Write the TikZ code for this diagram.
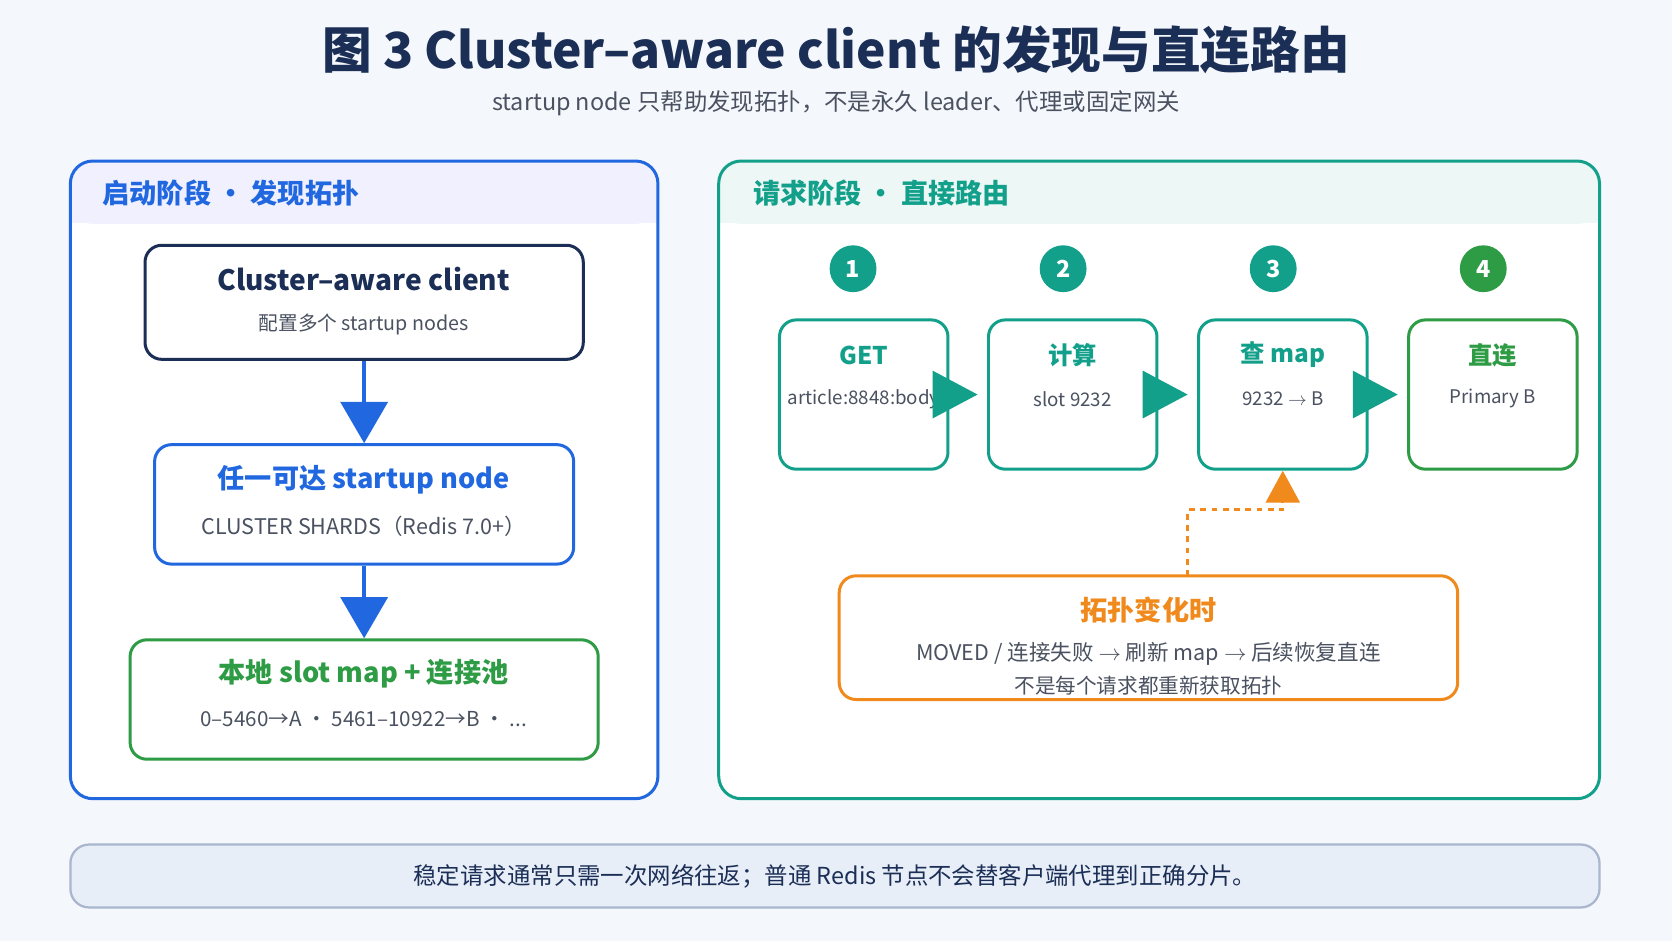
\documentclass[tikz,border=0pt]{standalone}
\usepackage{fontspec}
\setmainfont{Noto Sans CJK SC}
\usetikzlibrary{arrows.meta,positioning}
\definecolor{navy}{HTML}{1B2E55}
\definecolor{bluec}{HTML}{2168E0}
\definecolor{tealc}{HTML}{13A08A}
\definecolor{greenc}{HTML}{2E9B45}
\definecolor{orangec}{HTML}{F08A1C}
\definecolor{grayt}{HTML}{4A5160}
\definecolor{bgc}{HTML}{F4F7FB}
\definecolor{footfill}{HTML}{E8EEF8}
\definecolor{footline}{HTML}{AAB6CD}
\newcommand{\fs}[1]{\fontsize{#1}{#1}\selectfont}
\tikzset{
  card/.style={draw, rounded corners=9pt, line width=1.6pt, fill=white},
  ttl/.style={font=\fs{14.5}\bfseries},
  sub/.style={font=\fs{10.5}, text=grayt},
  num/.style={circle, fill=tealc, minimum size=25pt, inner sep=0pt, text=white, font=\fs{12.5}\bfseries},
  flow/.style={-{Triangle[length=24pt,width=25pt]}, tealc, line width=2pt, shorten >=5pt}
}
\begin{document}
\begin{tikzpicture}[x=0.02cm, y=-0.02cm]
\fill[bgc] (0,0) rectangle (1568,882);
\node[font=\fs{26.5}\bfseries, text=navy] (title) at (784,47) {图 3 Cluster–aware client 的发现与直连路由};
\node[font=\fs{12.5}, text=grayt] (subtitle) at (784,97) {startup node 只帮助发现拓扑，不是永久 leader、代理或固定网关};

% left panel
\fill[white, rounded corners=12pt] (66,151) rectangle (617,749);
\fill[blue!6, rounded corners=12pt] (66,151) rectangle (617,210);
\fill[blue!6] (67,195) rectangle (616,209);
\draw[bluec, line width=1.6pt, rounded corners=12pt] (66,151) rectangle (617,749);
\node[anchor=west, font=\fs{14.5}\bfseries, text=bluec] (lhead) at (90,181) {启动阶段 · 发现拓扑};

\node[card, draw=navy, minimum width=411*0.02cm, minimum height=107*0.02cm] (client) at (341.5,283.5) {};
\node[font=\fs{15}, text=navy] at (341,262) {\textbf{Cluster–aware client}};
\node[sub] at (341,304) {配置多个 startup nodes};

\node[card, draw=bluec, minimum width=393*0.02cm, minimum height=112*0.02cm] (seed) at (341.5,473) {};
\node[ttl, text=bluec] at (341,450) {任一可达 startup node};
\node[sub, font=\fs{11.5}] at (341,494) {CLUSTER SHARDS（Redis 7.0+）};

\node[card, draw=greenc, minimum width=439*0.02cm, minimum height=112*0.02cm] (smap) at (341.5,656) {};
\node[ttl, text=greenc] at (341,632) {本地 slot map + 连接池};
\node[sub, font=\fs{11}] at (341,674) {0–5460→A · 5461–10922→B · ...};

\draw[-{Triangle[length=22pt,width=25pt]}, bluec, line width=2.2pt] (client.south) -- (seed.north);
\draw[-{Triangle[length=22pt,width=25pt]}, bluec, line width=2.2pt] (seed.south) -- (smap.north);

% right panel
\fill[white, rounded corners=12pt] (674,151) rectangle (1500,749);
\fill[tealc!8, rounded corners=12pt] (674,151) rectangle (1500,210);
\fill[tealc!8] (675,195) rectangle (1499,209);
\draw[tealc, line width=1.6pt, rounded corners=12pt] (674,151) rectangle (1500,749);
\node[anchor=west, font=\fs{14.5}\bfseries, text=tealc] (rhead) at (700,181) {请求阶段 · 直接路由};

\foreach \i/\x/\c in {1/800/tealc, 2/997/tealc, 3/1194/tealc, 4/1391/greenc}
  \node[num, fill=\c] (n\i) at (\x,252) {\i};

\foreach \i/\x/\c/\t/\s in {1/810/tealc/GET/article:8848:body, 2/1006/tealc/计算/slot 9232, 3/1203/tealc/查 map/9232 $\rightarrow$ B, 4/1400/greenc/直连/Primary B}{
  \node[card, draw=\c, minimum width=158*0.02cm, minimum height=140*0.02cm] (s\i) at (\x,370) {};
  \node[ttl, font=\fs{13}\bfseries, text=\c] at (\x,333) {\t};
  \node[sub, font=\fs{10}] at (\x,374) {\s};
}
\draw[flow] (s1.east) -- (s2.west);
\draw[flow] (s2.east) -- (s3.west);
\draw[flow] (s3.east) -- (s4.west);

\node[card, draw=orangec, minimum width=580*0.02cm, minimum height=116*0.02cm] (topo) at (1077,598) {};
\node[ttl, text=orangec] at (1077,572) {拓扑变化时};
\node[sub, font=\fs{11.5}] at (1077,613) {MOVED / 连接失败 $\rightarrow$ 刷新 map $\rightarrow$ 后续恢复直连};
\node[sub, font=\fs{11}] at (1077,643) {不是每个请求都重新获取拓扑};
\coordinate (bend) at (1203,478);
\draw[orangec, line width=1.6pt, dashed, -{Triangle[length=17pt,width=18pt]}]
  (1114,540) |- (bend) -- (s3.south);

% footer
\node[draw=footline, fill=footfill, rounded corners=10pt, line width=1.2pt,
  minimum width=1434*0.02cm, minimum height=59*0.02cm, font=\fs{12.5}, text=navy] (foot) at (783,821.5)
  {稳定请求通常只需一次网络往返；普通 Redis 节点不会替客户端代理到正确分片。};
\end{tikzpicture}
\end{document}
